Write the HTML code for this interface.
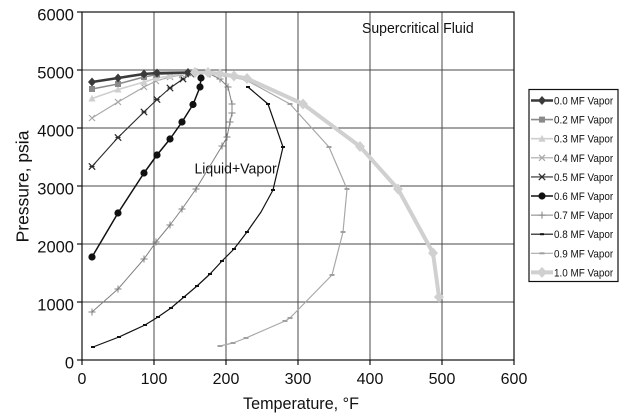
<!DOCTYPE html>
<html>
<head>
<meta charset="utf-8">
<style>
  html,body{margin:0;padding:0;background:#fff;}
  svg{display:block;}
  text{font-family:"Liberation Sans",Arial,sans-serif;fill:#111;}
</style>
</head>
<body>
<svg width="630" height="420" viewBox="0 0 630 420" xmlns="http://www.w3.org/2000/svg">
  <defs>
    <marker id="mDia0" markerUnits="userSpaceOnUse" markerWidth="1" markerHeight="1" refX="0" refY="0" overflow="visible">
      <path d="M0 -4.5 L4 0 L0 4.5 L-4 0Z" fill="#3a3a3a"/>
    </marker>
    <marker id="mSq" markerUnits="userSpaceOnUse" markerWidth="1" markerHeight="1" refX="0" refY="0" overflow="visible">
      <rect x="-3" y="-3" width="6" height="6" fill="#8a8a8a"/>
    </marker>
    <marker id="mTri" markerUnits="userSpaceOnUse" markerWidth="1" markerHeight="1" refX="0" refY="0" overflow="visible">
      <path d="M0 -3.8 L3.6 3 L-3.6 3Z" fill="#cfcfcf"/>
    </marker>
    <marker id="mX4" markerUnits="userSpaceOnUse" markerWidth="1" markerHeight="1" refX="0" refY="0" overflow="visible">
      <path d="M-3 -3 L3 3 M-3 3 L3 -3" stroke="#a8a8a8" stroke-width="1.2" fill="none"/>
    </marker>
    <marker id="mX5" markerUnits="userSpaceOnUse" markerWidth="1" markerHeight="1" refX="0" refY="0" overflow="visible">
      <path d="M-3.2 -3.2 L3.2 3.2 M-3.2 3.2 L3.2 -3.2 M-2.5 0 L2.5 0" stroke="#2a2a2a" stroke-width="1.2" fill="none"/>
    </marker>
    <marker id="mCirc" markerUnits="userSpaceOnUse" markerWidth="1" markerHeight="1" refX="0" refY="0" overflow="visible">
      <circle cx="0" cy="0" r="3.6" fill="#111"/>
    </marker>
    <marker id="mPlus" markerUnits="userSpaceOnUse" markerWidth="1" markerHeight="1" refX="0" refY="0" overflow="visible">
      <path d="M-3.5 0 L3.5 0 M0 -3.5 L0 3.5" stroke="#808080" stroke-width="1" fill="none"/>
    </marker>
    <marker id="mDash8" markerUnits="userSpaceOnUse" markerWidth="1" markerHeight="1" refX="0" refY="0" overflow="visible">
      <rect x="-2" y="-1" width="4" height="2" fill="#111"/>
    </marker>
    <marker id="mDash9" markerUnits="userSpaceOnUse" markerWidth="1" markerHeight="1" refX="0" refY="0" overflow="visible">
      <rect x="-2.5" y="-1" width="5" height="2" fill="#a0a0a0"/>
    </marker>
    <marker id="mDia10" markerUnits="userSpaceOnUse" markerWidth="1" markerHeight="1" refX="0" refY="0" overflow="visible">
      <path d="M0 -5.5 L5 0 L0 5.5 L-5 0Z" fill="#d0d0d0"/>
    </marker>
  </defs>

  <!-- Plot background -->
  <rect x="82" y="12" width="432" height="348" fill="#fff"/>

  <!-- Gridlines -->
  <g stroke="#4a4a4a" stroke-width="1" fill="none">
    <line x1="154" y1="12" x2="154" y2="360"/>
    <line x1="226" y1="12" x2="226" y2="360"/>
    <line x1="298" y1="12" x2="298" y2="360"/>
    <line x1="370" y1="12" x2="370" y2="360"/>
    <line x1="442" y1="12" x2="442" y2="360"/>
    <line x1="82" y1="70" x2="514" y2="70"/>
    <line x1="82" y1="128" x2="514" y2="128"/>
    <line x1="82" y1="186" x2="514" y2="186"/>
    <line x1="82" y1="244" x2="514" y2="244"/>
    <line x1="82" y1="302" x2="514" y2="302"/>
  </g>

  <!-- Plot border -->
  <rect x="82" y="12" width="432" height="348" fill="none" stroke="#111" stroke-width="1.2"/>

  <!-- Ticks -->
  <g stroke="#111" stroke-width="1.2">
    <line x1="77" y1="12" x2="82" y2="12"/>
    <line x1="77" y1="70" x2="82" y2="70"/>
    <line x1="77" y1="128" x2="82" y2="128"/>
    <line x1="77" y1="186" x2="82" y2="186"/>
    <line x1="77" y1="244" x2="82" y2="244"/>
    <line x1="77" y1="302" x2="82" y2="302"/>
    <line x1="77" y1="360" x2="82" y2="360"/>
    <line x1="82" y1="360" x2="82" y2="365"/>
    <line x1="154" y1="360" x2="154" y2="365"/>
    <line x1="226" y1="360" x2="226" y2="365"/>
    <line x1="298" y1="360" x2="298" y2="365"/>
    <line x1="370" y1="360" x2="370" y2="365"/>
    <line x1="442" y1="360" x2="442" y2="365"/>
    <line x1="514" y1="360" x2="514" y2="365"/>
  </g>

  <!-- Y tick labels -->
  <g font-size="16.5" text-anchor="end">
    <text x="74" y="20.5">6000</text>
    <text x="74" y="78.5">5000</text>
    <text x="74" y="136.5">4000</text>
    <text x="74" y="194.5">3000</text>
    <text x="74" y="252.5">2000</text>
    <text x="74" y="310.5">1000</text>
    <text x="74" y="368.5">0</text>
  </g>

  <!-- X tick labels -->
  <g font-size="16" text-anchor="middle">
    <text x="82" y="384">0</text>
    <text x="154" y="384">100</text>
    <text x="226" y="384">200</text>
    <text x="298" y="384">300</text>
    <text x="370" y="384">400</text>
    <text x="442" y="384">500</text>
    <text x="514" y="384">600</text>
  </g>

  <!-- Axis titles -->
  <text x="301" y="409" font-size="17" text-anchor="middle" transform="translate(301,0) scale(0.95,1) translate(-301,0)">Temperature, °F</text>
  <text x="0" y="0" font-size="17.5" text-anchor="middle" transform="translate(28.5,186.5) rotate(-90)">Pressure, psia</text>

  <!-- Region annotations -->
  <text x="362" y="33" font-size="14.5" transform="translate(362,0) scale(0.97,1) translate(-362,0)">Supercritical Fluid</text>
  <text x="194.5" y="173.3" font-size="14.5" transform="translate(194.5,0) scale(0.97,1) translate(-194.5,0)">Liquid+Vapor</text>

  <!-- Series -->
  <g fill="none" stroke-linejoin="round">
    <!-- 0.9 -->
    <polyline points="220,346 233,343 246,338 285,321 290,318 332,275 343,232 347,189 329,147 290,104 246,80 226,76 206,73" stroke="#a8a8a8" stroke-width="1.2" marker-start="url(#mDash9)" marker-mid="url(#mDash9)" marker-end="url(#mDash9)"/>
    <!-- 0.8 -->
    <polyline points="93,347 119,337 145,325 158,317 171,308 184,297 197,286 210,274 222,261 234,249 247,232 261,212 273,190 283,147 268,104 248,87" stroke="#111" stroke-width="1.2" marker-start="url(#mDash8)" marker-end="url(#mDash8)"/>
    <g>
      <polyline points="93,347 119,337 145,325 158,317 171,308 184,297 197,286 210,274 222,261 234,249 247,232" stroke="none" marker-start="url(#mDash8)" marker-mid="url(#mDash8)" marker-end="url(#mDash8)"/>
      <polyline points="273,190 283,147 268,104" stroke="none" marker-start="url(#mDash8)" marker-mid="url(#mDash8)" marker-end="url(#mDash8)"/>
    </g>
    <!-- 0.7 -->
    <polyline points="92,312 118,289 144,259 156,242 170,225 182,209 196,189 222,146 227,137 230,122 232,113 232,104 228,87 220,79 210,74 197,72" stroke="#808080" stroke-width="1" marker-start="url(#mPlus)" marker-mid="url(#mPlus)" marker-end="url(#mPlus)"/>
    <!-- 0.6 -->
    <polyline points="92,257 118,213 144,173 157,155 170,139 182,122 193,104.5 200,87 201,78" stroke="#111" stroke-width="1.5" marker-start="url(#mCirc)" marker-mid="url(#mCirc)" marker-end="url(#mCirc)"/>
    <!-- 0.5 -->
    <polyline points="92,166.5 118,137.5 144,112 157,99.5 170,88 183,79 191,74" stroke="#2a2a2a" stroke-width="1.1" marker-start="url(#mX5)" marker-mid="url(#mX5)" marker-end="url(#mX5)"/>
    <!-- 0.4 -->
    <polyline points="92,118 118,102 144,87 156,81 170,77 182,75 191,73" stroke="#a8a8a8" stroke-width="1.1" marker-start="url(#mX4)" marker-mid="url(#mX4)" marker-end="url(#mX4)"/>
    <!-- 0.3 -->
    <polyline points="92,98.5 118,89.5 144,82 157,78 170,76 188,73.5" stroke="#cfcfcf" stroke-width="1.6" marker-start="url(#mTri)" marker-mid="url(#mTri)" marker-end="url(#mTri)"/>
    <!-- 0.2 -->
    <polyline points="92,89 118,84 144,77 157,74.5 188,73" stroke="#8a8a8a" stroke-width="1.6" marker-start="url(#mSq)" marker-mid="url(#mSq)" marker-end="url(#mSq)"/>
    <!-- 0.0 -->
    <polyline points="92,82 118,78 144,74 157,73 188,72.5" stroke="#3a3a3a" stroke-width="2.6" marker-start="url(#mDia0)" marker-mid="url(#mDia0)" marker-end="url(#mDia0)"/>
    <!-- 1.0 -->
    <polyline points="195,72.5 208,72.5 220,74 234,76 247,78.5 303,104 360,146.5 398,189 433,253 439,297" stroke="#d0d0d0" stroke-width="4" marker-start="url(#mDia10)" marker-mid="url(#mDia10)" marker-end="url(#mDia10)"/>
  </g>

  <!-- Legend -->
  <rect x="529" y="89.5" width="89" height="192" fill="#fff" stroke="#111" stroke-width="1.2"/>
  <g fill="none">
    <line x1="531" y1="100.5" x2="553" y2="100.5" stroke="#3a3a3a" stroke-width="2.6"/>
    <line x1="531" y1="119.6" x2="553" y2="119.6" stroke="#8a8a8a" stroke-width="1.6"/>
    <line x1="531" y1="138.7" x2="553" y2="138.7" stroke="#cfcfcf" stroke-width="1.6"/>
    <line x1="531" y1="157.8" x2="553" y2="157.8" stroke="#a8a8a8" stroke-width="1.1"/>
    <line x1="531" y1="176.9" x2="553" y2="176.9" stroke="#2a2a2a" stroke-width="1.1"/>
    <line x1="531" y1="196" x2="553" y2="196" stroke="#111" stroke-width="1.5"/>
    <line x1="531" y1="215.1" x2="553" y2="215.1" stroke="#808080" stroke-width="1"/>
    <line x1="531" y1="234.2" x2="553" y2="234.2" stroke="#111" stroke-width="1.2"/>
    <line x1="531" y1="253.3" x2="553" y2="253.3" stroke="#a8a8a8" stroke-width="1.2"/>
    <line x1="531" y1="272.4" x2="553" y2="272.4" stroke="#d0d0d0" stroke-width="4"/>
  </g>
  <!-- legend markers -->
  <path d="M542 96 L546 100.5 L542 105 L538 100.5Z" fill="#3a3a3a"/>
  <rect x="539" y="116.6" width="6" height="6" fill="#8a8a8a"/>
  <path d="M542 134.9 L545.6 141.7 L538.4 141.7Z" fill="#cfcfcf"/>
  <path d="M539 154.8 L545 160.8 M539 160.8 L545 154.8" stroke="#a8a8a8" stroke-width="1.2"/>
  <path d="M538.8 173.7 L545.2 180.1 M538.8 180.1 L545.2 173.7" stroke="#2a2a2a" stroke-width="1.2"/>
  <circle cx="542" cy="196" r="3.6" fill="#111"/>
  <path d="M538.5 215.1 L545.5 215.1 M542 211.6 L542 218.6" stroke="#808080" stroke-width="1"/>
  <rect x="540" y="233.2" width="4" height="2" fill="#111"/>
  <rect x="539.5" y="252.3" width="5" height="2" fill="#a0a0a0"/>
  <path d="M542 266.9 L547 272.4 L542 277.9 L537 272.4Z" fill="#d0d0d0"/>

  <g font-size="11" transform="translate(554,0) scale(0.9,1) translate(-554,0)">
    <text x="554" y="104.5">0.0 MF Vapor</text>
    <text x="554" y="123.6">0.2 MF Vapor</text>
    <text x="554" y="142.7">0.3 MF Vapor</text>
    <text x="554" y="161.8">0.4 MF Vapor</text>
    <text x="554" y="180.9">0.5 MF Vapor</text>
    <text x="554" y="200">0.6 MF Vapor</text>
    <text x="554" y="219.1">0.7 MF Vapor</text>
    <text x="554" y="238.2">0.8 MF Vapor</text>
    <text x="554" y="257.3">0.9 MF Vapor</text>
    <text x="554" y="276.4">1.0 MF Vapor</text>
  </g>
</svg>
</body>
</html>
